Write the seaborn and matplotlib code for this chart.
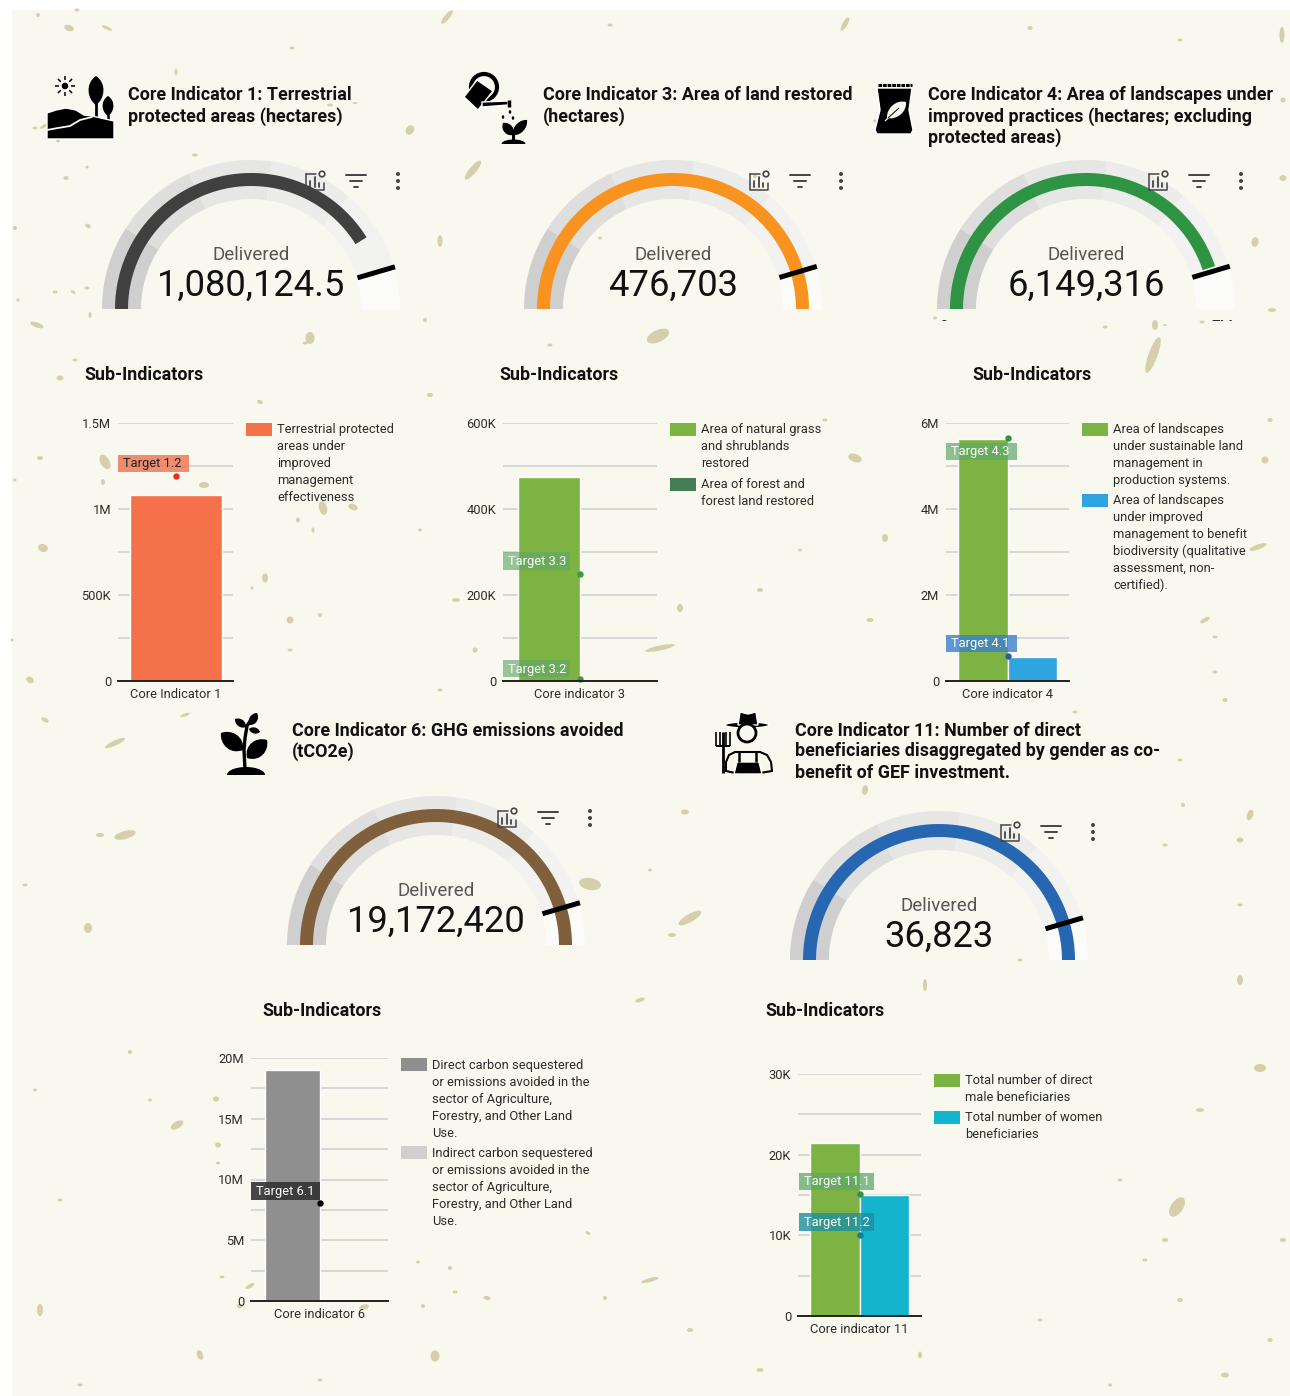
import numpy as np
import pandas as pd
import matplotlib
matplotlib.use('Agg')
import matplotlib.pyplot as plt
import seaborn as sns
from matplotlib.patches import Rectangle, Polygon, Ellipse, Circle, PathPatch
from matplotlib.path import Path

sns.set_theme(style='white')
plt.rcParams['font.family'] = ['Roboto', 'DejaVu Sans']

W, H = 1290, 1396
PAPER = '#F9F8EF'
FLECK = '#D6CFAB'
TEXT = '#2B2B2B'

# gauges
gauge_names = ['ci1', 'ci3', 'ci4', 'ci6', 'ci11']
gauge_values = [1080124.5, 476703, 6149316, 19172420, 36823]
gauge_targets = [1193000, 433000, 6220000, 17430000, 33480]
gauge_maxes = [1312000, 476703, 6850000, 19172420, 36823]
gauge_labels = ['1,080,124.5', '476,703', '6,149,316', '19,172,420', '36,823']
gauge_colors = ['#404040', '#F7931E', '#2E9443', '#80603C', '#2766B0']
band_steps = [0.2, 0.4, 0.6, 0.8, 1.0]
band_colors = ['#CFCFCF', '#DEDFDD', '#E6E7E5', '#ECEDEB', '#F2F3F1', '#FBFBF9']

# bar charts
ci1_series = ['Terrestrial protected\nareas under\nimproved\nmanagement\neffectiveness']
ci1_values = [1080124.5]
ci1_colors = ['#F4714A']
ci1_targets = [('Target 1.2', 1190000)]
ci3_series = ['Area of natural grass\nand shrublands\nrestored', 'Area of forest and\nforest land restored']
ci3_values = [474000, 2700]
ci3_colors = ['#7CB342', '#437C55']
ci3_targets = [('Target 3.3', 249000), ('Target 3.2', 5000)]
ci4_series = ['Area of landscapes\nunder sustainable land\nmanagement in\nproduction systems.',
              'Area of landscapes\nunder improved\nmanagement to benefit\nbiodiversity (qualitative\nassessment, non-\ncertified).']
ci4_values = [5620000, 550000]
ci4_colors = ['#7CB342', '#2FA4DE']
ci4_targets = [('Target 4.3', 5640000), ('Target 4.1', 570000)]
ci6_series = ['Direct carbon sequestered\nor emissions avoided in the\nsector of Agriculture,\nForestry, and Other Land\nUse.',
              'Indirect carbon sequestered\nor emissions avoided in the\nsector of Agriculture,\nForestry, and Other Land\nUse.']
ci6_values = [19000000, 0]
ci6_colors = ['#8F8F8F', '#CFCFCF']
ci6_targets = [('Target 6.1', 8070000)]
ci11_series = ['Total number of direct\nmale beneficiaries', 'Total number of women\nbeneficiaries']
ci11_values = [21500, 15000]
ci11_colors = ['#7CB342', '#14B4CC']
ci11_targets = [('Target 11.1', 15100), ('Target 11.2', 10000)]

# (x, y, width, height, angle) of the paper flecks
flecks = [(38, 15, 4, 4, 0), (69, 28, 10, 6, 20), (107, 28, 11, 3, 25), (77, 10, 5, 3, 0), (292, 48, 5, 3, 0),
          (447, 17, 5, 17, 40), (610, 25, 5, 3, 0), (845, 24, 5, 15, 30), (1030, 28, 5, 4, 0), (1282, 35, 5, 16, 0),
          (1180, 40, 5, 3, 0), (330, 105, 6, 3, 0), (355, 103, 5, 2, 0), (176, 72, 3, 7, 0), (35, 128, 5, 3, 0),
          (66, 178, 5, 4, 0), (46, 125, 3, 14, 60), (58, 140, 4, 5, 0), (275, 118, 4, 11, 0), (410, 130, 8, 10, 30),
          (195, 155, 6, 3, 0), (473, 170, 7, 24, 40), (440, 241, 5, 12, 0), (310, 338, 9, 12, 0), (658, 336, 24, 12, -25),
          (1153, 355, 9, 38, 20), (1155, 325, 6, 10, 0), (1202, 322, 5, 3, 0), (43, 548, 10, 8, 20), (15, 228, 4, 4, 0),
          (18, 300, 3, 3, 0), (425, 320, 4, 4, 0), (1272, 310, 8, 4, 0), (1255, 242, 7, 10, 10), (1283, 178, 7, 6, 0),
          (87, 167, 3, 3, 0), (88, 226, 6, 4, 30), (87, 288, 5, 3, 0), (73, 292, 5, 3, 30), (55, 292, 5, 3, 0),
          (90, 315, 3, 6, 0), (37, 325, 14, 5, 20), (600, 238, 4, 3, 0), (755, 176, 4, 4, 0), (875, 121, 4, 3, 0),
          (1283, 100, 5, 5, 0), (935, 318, 4, 3, 0), (1105, 327, 5, 3, 0), (1165, 325, 4, 2, 0), (550, 345, 5, 3, 0),
          (305, 343, 5, 3, 0), (75, 360, 5, 3, 0), (260, 402, 6, 4, 20), (105, 462, 9, 16, -30), (103, 482, 4, 6, 0),
          (204, 485, 10, 6, 0), (323, 508, 8, 14, -15), (353, 507, 10, 6, 20), (298, 520, 4, 5, 0), (313, 530, 3, 5, 0),
          (265, 578, 6, 9, 0), (252, 588, 3, 3, 0), (290, 620, 7, 7, 0), (320, 615, 4, 4, 0), (290, 650, 5, 3, 0),
          (60, 378, 7, 5, 0), (40, 458, 6, 4, 0), (15, 480, 3, 3, 0), (30, 680, 8, 6, 30), (12, 640, 3, 3, 0),
          (45, 720, 8, 4, 30), (115, 743, 22, 5, -25), (185, 715, 10, 3, -20), (125, 835, 22, 8, -15), (100, 835, 8, 4, 0),
          (430, 395, 6, 4, 0), (420, 530, 4, 3, 0), (456, 600, 8, 4, 0), (475, 650, 5, 5, 0), (440, 690, 5, 3, 0),
          (660, 648, 30, 5, -12), (680, 608, 6, 8, 0), (855, 458, 14, 8, 20), (885, 538, 6, 8, 0), (870, 620, 7, 4, 0),
          (800, 550, 4, 3, 0), (760, 590, 6, 4, 0), (825, 420, 5, 3, 0), (1270, 420, 5, 4, 0), (1258, 547, 18, 5, -20),
          (1265, 460, 7, 7, 0), (1205, 620, 11, 4, -30), (1215, 637, 5, 3, 0), (1215, 672, 5, 3, 0), (1225, 700, 5, 4, 0),
          (1075, 712, 5, 3, 0), (685, 812, 8, 5, 0), (870, 735, 5, 3, 0), (865, 790, 6, 10, 10), (1180, 760, 5, 3, 0),
          (1250, 815, 6, 11, 20), (1183, 805, 4, 4, 0), (1165, 845, 5, 3, 0), (1240, 840, 7, 5, 0), (590, 884, 22, 12, 10),
          (690, 918, 26, 8, -30), (672, 935, 8, 4, 0), (650, 870, 4, 3, 0), (88, 928, 8, 10, 0), (25, 885, 5, 3, 0),
          (640, 1000, 10, 4, -20), (1240, 905, 5, 3, 0), (1240, 980, 6, 10, 0), (925, 985, 4, 12, 0), (1020, 960, 5, 3, 0),
          (1177, 1207, 12, 22, 35), (1165, 1240, 6, 4, 0), (1283, 1240, 6, 4, 0), (1260, 1068, 12, 8, 0), (1200, 1110, 8, 4, 0),
          (1145, 1260, 5, 3, 0), (1120, 1180, 5, 3, 0), (177, 1125, 14, 7, -30), (150, 1100, 4, 3, 0), (130, 1052, 4, 4, 0),
          (216, 1099, 6, 5, 0), (218, 1145, 6, 5, 20), (218, 1163, 4, 3, 0), (222, 1277, 5, 3, 0), (250, 1286, 10, 4, -30),
          (240, 1306, 6, 5, 0), (364, 1307, 10, 5, -15), (418, 1262, 4, 3, 0), (450, 1268, 4, 4, 0), (455, 1292, 5, 3, 0),
          (487, 1298, 7, 4, 15), (423, 1306, 4, 4, 0), (605, 1298, 4, 4, 0), (588, 1233, 5, 3, 30), (40, 1310, 6, 12, 0),
          (60, 1200, 5, 3, 0), (35, 1090, 4, 3, 0), (200, 1355, 6, 10, -20), (435, 1356, 9, 11, 0), (690, 1330, 6, 4, 0),
          (650, 1280, 18, 4, -15), (1040, 1320, 5, 3, 0), (1180, 1300, 6, 4, 0), (1225, 1375, 8, 5, 0), (1270, 1340, 5, 4, 0),
          (80, 1385, 5, 3, 0), (320, 1380, 5, 3, 0), (760, 1370, 7, 4, 0), (920, 1355, 4, 7, 0), (1110, 1385, 4, 3, 0)]

fig = plt.figure(figsize=(W / 100, H / 100), dpi=100, facecolor='white')


def page_axes(z):
    ax = fig.add_axes([0, 0, 1, 1], zorder=z)
    ax.set_xlim(0, W)
    ax.set_ylim(H, 0)
    ax.axis('off')
    ax.patch.set_alpha(0)
    return ax


back = page_axes(0)
front = page_axes(5)
back.add_patch(Rectangle((12, 10), W - 12, H - 10, fc=PAPER, ec='none'))
for x, y, w, h, a in flecks:
    back.add_patch(Ellipse((x, y), w, h, angle=a, fc=FLECK, ec='none'))


def ring(ax, cx, cy, r0, r1, f0, f1, color, z=2):
    # f is the share of the half circle, from the left end
    t = np.pi * (1 - np.linspace(f0, f1, 80))
    xs = np.r_[cx + r1 * np.cos(t), cx + r0 * np.cos(t[::-1])]
    ys = np.r_[cy - r1 * np.sin(t), cy - r0 * np.sin(t[::-1])]
    ax.add_patch(Polygon(np.c_[xs, ys], fc=color, ec='none', zorder=z))


def toolbar(ax, xs, y):
    c = '#444444'
    x = xs[0]
    ax.plot([x - 9, x - 9, x + 9, x + 9], [y - 7, y + 9, y + 9, y + 2], color=c, lw=1.1, zorder=4)
    ax.plot([x - 9, x + 1], [y - 7, y - 7], color=c, lw=1.1, zorder=4)
    for dx, h in zip([-5, 0, 4], [6, 10, 4]):
        ax.plot([x + dx, x + dx], [y + 6, y + 6 - h], color=c, lw=1.3, zorder=4)
    ax.add_patch(Circle((x + 7, y - 7), 2.8, fc='none', ec=c, lw=1.2, zorder=4))
    x = xs[1]
    for half, dy in zip([10, 6, 2], [-6, 0, 6]):
        ax.plot([x - half, x + half], [y + dy, y + dy], color=c, lw=1.4, zorder=4)
    x = xs[2]
    for dy in [-7, 0, 7]:
        ax.add_patch(Circle((x, y + dy), 2, fc=c, ec='none', zorder=4))


def gauge(i, cx, cy, tools, tools_y):
    top = gauge_maxes[i]
    target = gauge_targets[i]
    edges = [0] + [target * s / top for s in band_steps] + [1]
    for k, col in enumerate(band_colors):
        ring(back, cx, cy, 110, 149, edges[k], edges[k + 1], col)
    ring(back, cx, cy, 123, 136, 0, gauge_values[i] / top, gauge_colors[i], z=3)
    ang = np.pi * (1 - target / top)
    back.plot([cx + 111 * np.cos(ang), cx + 150 * np.cos(ang)],
              [cy - 111 * np.sin(ang), cy - 150 * np.sin(ang)], color='black', lw=3.6, zorder=4, solid_capstyle='butt')
    back.text(cx, cy - 54, 'Delivered', ha='center', va='center', fontsize=13.5, color='#555555', zorder=5)
    back.text(cx, cy - 23, gauge_labels[i], ha='center', va='center', fontsize=26.2, color='#111111', zorder=5)
    toolbar(back, tools, tools_y)


gauge(0, 251, 309, [315, 356, 398], 181)
gauge(1, 673, 309, [759, 800, 841], 181)
gauge(2, 1086, 309, [1158, 1199, 1241], 181)
gauge(3, 436, 945, [507, 548, 590], 818)
gauge(4, 939, 960, [1010, 1051, 1093], 832)

# gauge 4 has its end labels cut off in the original
clip = Rectangle((920, 300), 340, 21, transform=back.transData)
for x, s in [(943, '0'), (1222, '7M')]:
    t = back.text(x, 327, s, ha='center', va='center', fontsize=11, color=TEXT, zorder=5, clip_on=True)
    t.set_clip_path(clip)


def title(lines, x, ys):
    for s, y in zip(lines, ys):
        back.text(x, y + 1.5, s, ha='left', va='center', fontsize=12.9, fontweight='bold', color='#111111', zorder=5)


title(['Core Indicator 1: Terrestrial', 'protected areas (hectares)'], 128, [93, 115])
title(['Core Indicator 3: Area of land restored', '(hectares)'], 543, [93, 115])
title(['Core Indicator 4: Area of landscapes under', 'improved practices (hectares; excluding', 'protected areas)'], 928, [93, 115, 136])
title(['Core Indicator 6: GHG emissions avoided', '(tCO2e)'], 292, [729, 750])
title(['Core Indicator 11: Number of direct', 'beneficiaries disaggregated by gender as co-', 'benefit of GEF investment.'], 795, [729, 750, 771])
for s_x, s_y in [(84, 374), (499, 374), (972, 374), (262, 1009), (765, 1009)]:
    title(['Sub-Indicators'], s_x, [s_y])


def bars(box, group, series, values, colors, ymax, major, major_labels, minor, targets, dot, legend_x, legend_rows):
    left, right, y_top, y_zero = box
    ax = fig.add_axes([left / W, 1 - y_zero / H, (right - left) / W, (y_zero - y_top) / H], zorder=2)
    ax.patch.set_alpha(0)
    df = pd.DataFrame({'group': group, 'series': series, 'value': values})
    sns.barplot(data=df, x='group', y='value', hue='series', palette=colors, width=0.8, gap=0,
                saturation=1, legend=False, ax=ax, zorder=3)
    ax.set_xlim(-0.5, 0.5)
    ax.set_ylim(0, ymax)
    ax.set_yticks(major)
    ax.set_yticklabels(major_labels)
    ax.set_yticks(minor, minor=True)
    ax.tick_params(axis='both', which='both', length=0, labelsize=9.3, labelcolor=TEXT)
    ax.tick_params(axis='y', pad=5)
    ax.tick_params(axis='x', pad=5)
    ax.grid(True, axis='y', which='both', color='#CDCDD2', lw=1.1)
    ax.set_axisbelow(True)
    ax.set_xlabel('')
    ax.set_ylabel('')
    sns.despine(ax=ax, left=True)
    ax.spines['bottom'].set_color('#222222')
    ax.spines['bottom'].set_linewidth(1.4)
    ax.spines['bottom'].set_zorder(10)
    for (label, value), col in zip(targets, dot):
        ax.scatter([0], [value], s=13, color=col[0], zorder=6, clip_on=False)
    # target tags sit over the bars, on the page layer
    for (label, value), col in zip(targets, dot):
        bx0, bx1, by0, by1 = col[1]
        front.add_patch(Rectangle((bx0, by0), bx1 - bx0, by1 - by0, fc=col[2], ec='none', alpha=col[3], zorder=2))
        front.text(bx0 + 5, (by0 + by1) / 2 + 0.5, label, ha='left', va='center', fontsize=9.3, color=col[4], zorder=3)
    # legend
    for name, color, (sw_y, txt_y) in zip(series, colors, legend_rows):
        back.add_patch(Rectangle((legend_x, sw_y), 26, 13, fc=color, ec='none', zorder=3))
        for n, line in enumerate(name.split('\n')):
            back.text(legend_x + 31, txt_y + 0.7 + n * 16.9, line, ha='left', va='center', fontsize=9.3, color=TEXT, zorder=5)


GREEN_TAG = '#5FA868'
bars((118, 233, 423, 681), ['Core Indicator 1'], ci1_series, ci1_values, ci1_colors, 1500000,
     [0, 500000, 1000000, 1500000], ['0', '500K', '1M', '1.5M'], [250000, 750000, 1250000], ci1_targets,
     [('#E8341C', (118, 189, 455, 472), '#EE7A58', 0.85, '#222222')], 246, [(423, 429)])
bars((503, 657, 423, 681), ['Core indicator 3'] * 2, ci3_series, ci3_values, ci3_colors, 600000,
     [0, 200000, 400000, 600000], ['0', '200K', '400K', '600K'], [100000, 300000, 500000], ci3_targets,
     [('#3E9A3E', (503, 570, 552, 570), GREEN_TAG, 0.65, 'white'), ('#3E9A3E', (503, 570, 660, 677), GREEN_TAG, 0.65, 'white')],
     670, [(423, 429), (478, 484)])
bars((946, 1069, 423, 681), ['Core indicator 4'] * 2, ci4_series, ci4_values, ci4_colors, 6000000,
     [0, 2000000, 4000000, 6000000], ['0', '2M', '4M', '6M'], [1000000, 3000000, 5000000], ci4_targets,
     [('#2E9443', (946, 1017, 443, 460), GREEN_TAG, 0.7, 'white'), ('#2A5CAA', (946, 1017, 635, 652), '#3D7FCC', 0.8, 'white')],
     1082, [(423, 429), (494, 500)])
bars((251, 388, 1058, 1301), ['Core indicator 6'] * 2, ci6_series, ci6_values, ci6_colors, 20000000,
     [0, 5000000, 10000000, 15000000, 20000000], ['0', '5M', '10M', '15M', '20M'],
     [2500000, 7500000, 12500000, 17500000], ci6_targets,
     [('black', (251, 320, 1182, 1200), '#333333', 0.9, 'white')], 401, [(1058, 1065), (1146, 1153)])
bars((798, 921, 1074, 1316), ['Core indicator 11'] * 2, ci11_series, ci11_values, ci11_colors, 30000,
     [0, 10000, 20000, 30000], ['0', '10K', '20K', '30K'], [5000, 15000, 25000], ci11_targets,
     [('#2E9443', (799, 874, 1173, 1190), GREEN_TAG, 0.75, 'white'), ('#13808F', (799, 874, 1213, 1231), '#1E8F9F', 0.8, 'white')],
     934, [(1074, 1080), (1111, 1117)])


def blob(ax, a, b, width, color='black', z=6):
    # pointed leaf shape from point a to point b
    a, b = np.array(a, float), np.array(b, float)
    n = np.array([-(b - a)[1], (b - a)[0]])
    n = n / np.hypot(*n) * width
    p1, p2 = a + (b - a) * 0.25 + n, a + (b - a) * 0.8 + n * 0.8
    p3, p4 = a + (b - a) * 0.8 - n * 0.8, a + (b - a) * 0.25 - n
    verts = [a, p1, p2, b, p3, p4, a]
    codes = [Path.MOVETO, Path.CURVE4, Path.CURVE4, Path.CURVE4, Path.CURVE4, Path.CURVE4, Path.CURVE4]
    ax.add_patch(PathPatch(Path(verts, codes), fc=color, ec='none', zorder=z))


def dome(ax, cx, y, rx, ry):
    t = np.linspace(0, np.pi, 40)
    ax.add_patch(Polygon(np.c_[cx + rx * np.cos(t), y - ry * np.sin(t)], fc='black', ec='none', zorder=6))


def line(ax, xs, ys, lw, color='black', z=6):
    ax.plot(xs, ys, color=color, lw=lw, zorder=z, solid_capstyle='butt')


# icon: landscape
back.add_patch(Circle((65, 86), 4, fc='black', zorder=6))
for a in np.arange(0, 360, 45):
    c, s = np.cos(np.radians(a)), np.sin(np.radians(a))
    line(back, [65 + 6 * c, 65 + 10 * c], [86 + 6 * s, 86 + 10 * s], 1.1)
blob(back, (96, 76), (96, 105), 11)
line(back, [96, 96], [100, 120], 2)
blob(back, (108, 96), (108, 116), 8)
line(back, [108, 108], [112, 124], 1.8)
back.add_patch(Polygon([(47, 113), (56, 110), (66, 108), (76, 110), (84, 115), (92, 116), (114, 121), (114, 139), (47, 139)], fc='black', zorder=6))
back.plot([47, 58, 70, 80, 92], [130, 128, 126, 120, 117], color=PAPER, lw=1.3, zorder=7)

# icon: watering can and sprout
back.add_patch(Polygon([(464, 97), (477, 80), (493, 91), (478, 110)], fc='black', zorder=6))
back.add_patch(Circle((484, 87), 13, fc='none', ec='black', lw=3, zorder=5))
back.add_patch(Polygon([(482, 102), (508, 101), (508, 105), (482, 107)], fc='black', zorder=6))
line(back, [509, 509], [100, 107], 2.5)
for x, y in [(510, 112), (503, 117), (513, 118)]:
    back.add_patch(Ellipse((x, y), 4, 5, fc='black', zorder=6))
line(back, [513, 513], [130, 142], 2.2)
blob(back, (513, 135), (503, 123), 7)
blob(back, (513, 135), (527, 120), 7)
dome(back, 513.5, 144, 12, 4.5)

# icon: bag with a leaf
back.add_patch(Polygon([(877, 88), (912, 88), (909, 110), (913, 130), (911, 134), (877, 134), (875, 130), (880, 110)], fc='black', zorder=6))
back.plot([878, 912], [84.5, 84.5], color='black', lw=2.2, ls=(0, (1.2, 0.3)), zorder=6)
blob(back, (906, 102), (887, 118), 9, color=PAPER, z=7)
line(back, [885, 899], [121, 108], 0.9, color=PAPER, z=7)
line(back, [888, 899], [118, 108], 0.7, color='black', z=8)

# icon: seedling
back.plot([245, 244, 245, 247, 252], [770, 750, 738, 726, 718], color='black', lw=2.4, zorder=6)
blob(back, (243, 750), (221, 733), 12)
blob(back, (247, 758), (267, 740), 12)
blob(back, (246, 727), (235, 719), 5.5)
blob(back, (250, 725), (257, 713), 6)
blob(back, (249, 729), (260, 732), 4.5)
dome(back, 246, 775, 19, 8)

# icon: farmer
back.add_patch(Ellipse((747, 725), 44, 6, fc='black', zorder=6))
back.add_patch(Polygon([(738, 725), (740, 712), (748, 714), (756, 712), (758, 725)], fc='black', zorder=6))
back.add_patch(Circle((747, 733), 9, fc=PAPER, ec='black', lw=2, zorder=7))
back.add_patch(Polygon([(735, 752), (760, 752), (767, 755), (771, 762), (772, 771), (760, 773), (735, 773), (726, 771), (726, 762), (729, 755)],
                       fc=PAPER, ec='black', lw=1.5, zorder=6))
back.add_patch(Polygon([(737, 762), (759, 762), (762, 774), (734, 774)], fc='black', zorder=7))
line(back, [739, 739], [752, 762], 1.8, z=7)
line(back, [756, 756], [752, 762], 1.8, z=7)
line(back, [723, 723], [732, 773], 2, z=8)
for x in [716, 720, 726, 730]:
    line(back, [x, x], [732, 746], 1.2)
line(back, [716, 730], [746, 746], 1.4)

fig.savefig('out.png', dpi=100, facecolor='white')
